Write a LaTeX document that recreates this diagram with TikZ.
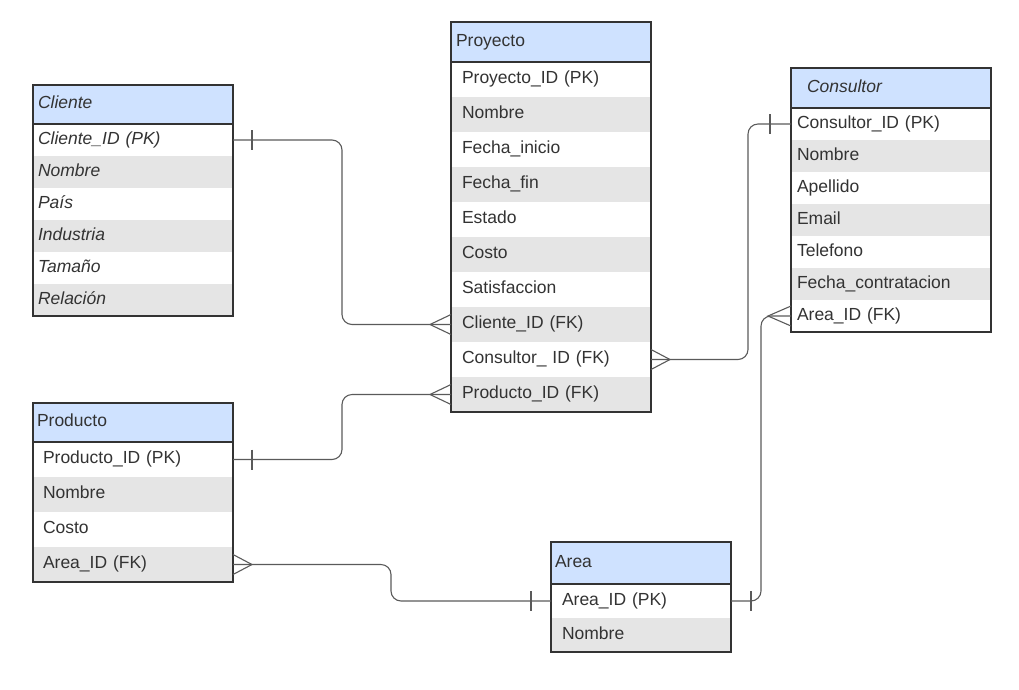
\documentclass[tikz,border=0pt]{standalone}
\usepackage{fontspec}
\setmainfont{Liberation Sans}
\usetikzlibrary{positioning}
\definecolor{headblue}{HTML}{CFE2FF}
\definecolor{rowgray}{HTML}{E5E5E5}
\definecolor{edgecol}{HTML}{333333}
\definecolor{linkcol}{HTML}{5A5A5A}
\definecolor{txtcol}{HTML}{333333}
\newcommand\erfont{\fontsize{17.5}{21}\selectfont}
\begin{document}
\begin{tikzpicture}[x=1pt, y=-1pt,
  every node/.style={font=\erfont, text=txtcol, align=left, anchor=north west, inner ysep=0pt, outer sep=0pt, text height=12.5pt, text depth=4pt},
  head/.style={fill=headblue, minimum height=#1},
  cell/.style={minimum height=#1},
  frame/.style={draw=edgecol, line width=1.2pt},
  link/.style={draw=linkcol, line width=1.1pt},
  pics/onetick/.style={code={\draw[link] (#1,-10) -- (#1,10);}},
  pics/crow/.style={code={\draw[link] (0,-10) -- (#1,0) -- (0,10);}}]
  \useasboundingbox (0,0) rectangle (1019,689);
  \node[head=39pt, text width=190pt, inner xsep=5pt, font=\erfont\itshape] (cli-h) at (33,85) {Cliente};
  \foreach \i/\txt/\col in {
    1/Cliente\_ID (PK)/white,
    2/Nombre/rowgray,
    3/País/white,
    4/Industria/rowgray,
    5/Tamaño/white,
    6/Relación/rowgray} {
      \node[cell=32pt, fill=\col, text width=190pt, inner xsep=5pt, font=\erfont\itshape] (cli-\i) at (33,{124+(\i-1)*32}) {\txt};
    }
  \draw[frame] (cli-h.north west) rectangle (cli-6.south east);
  \draw[frame, line width=2pt] (cli-h.south west) -- (cli-h.south east);
  \node[head=40pt, text width=190pt, inner xsep=5pt] (pro-h) at (451,22) {Proyecto};
  \foreach \i/\txt/\col in {
    1/Proyecto\_ID (PK)/white,
    2/Nombre/rowgray,
    3/Fecha\_inicio/white,
    4/Fecha\_fin/rowgray,
    5/Estado/white,
    6/Costo/rowgray,
    7/Satisfaccion/white,
    8/Cliente\_ID (FK)/rowgray,
    9/Consultor\_ ID (FK)/white,
    10/Producto\_ID (FK)/rowgray} {
      \node[cell=35pt, fill=\col, text width=178pt, inner xsep=11pt] (pro-\i) at (451,{62+(\i-1)*35}) {\txt};
    }
  \draw[frame] (pro-h.north west) rectangle (pro-10.south east);
  \draw[frame] (pro-h.south west) -- (pro-h.south east);
  \node[head=40pt, text width=168pt, inner xsep=16pt, font=\erfont\itshape] (con-h) at (791,68) {Consultor};
  \foreach \i/\txt/\col in {
    1/Consultor\_ID (PK)/white,
    2/Nombre/rowgray,
    3/Apellido/white,
    4/Email/rowgray,
    5/Telefono/white,
    6/Fecha\_contratacion/rowgray,
    7/Area\_ID (FK)/white} {
      \node[cell=32pt, fill=\col, text width=188pt, inner xsep=6pt] (con-\i) at (791,{108+(\i-1)*32}) {\txt};
    }
  \draw[frame] (con-h.north west) rectangle (con-7.south east);
  \draw[frame] (con-h.south west) -- (con-h.south east);
  \node[head=39pt, text width=192pt, inner xsep=4pt] (prd-h) at (33,403) {Producto};
  \foreach \i/\txt/\col in {
    1/Producto\_ID (PK)/white,
    2/Nombre/rowgray,
    3/Costo/white,
    4/Area\_ID (FK)/rowgray} {
      \node[cell=35pt, fill=\col, text width=180pt, inner xsep=10pt] (prd-\i) at (33,{442+(\i-1)*35}) {\txt};
    }
  \draw[frame] (prd-h.north west) rectangle (prd-4.south east);
  \draw[frame] (prd-h.south west) -- (prd-h.south east);
  \node[head=42pt, text width=172pt, inner xsep=4pt] (are-h) at (551,542) {Area};
  \foreach \i/\txt/\col in {
    1/Area\_ID (PK)/white,
    2/Nombre/rowgray} {
      \node[cell=34pt, fill=\col, text width=158pt, inner xsep=11pt] (are-\i) at (551,{584+(\i-1)*34}) {\txt};
    }
  \draw[frame] (are-h.north west) rectangle (are-2.south east);
  \draw[frame] (are-h.south west) -- (are-h.south east);
  \draw[link, rounded corners=10pt] (cli-1.east) -- ++(109,0) |- (pro-8.west);
  \pic at (cli-1.east) {onetick=19};
  \pic at (pro-8.west) {crow=-21};
  \draw[link, rounded corners=10pt] (prd-1.east) -- ++(109,0) |- (pro-10.west);
  \pic at (prd-1.east) {onetick=19};
  \pic at (pro-10.west) {crow=-21};
  \draw[link, rounded corners=10pt] (pro-9.east) -- ++(97,0) |- (con-1.west);
  \pic at (pro-9.east) {crow=19};
  \pic at (con-1.west) {onetick=-21};
  \draw[link, rounded corners=10pt] (are-1.east) -- ++(30,0) |- (con-7.west);
  \pic at (are-1.east) {onetick=20};
  \pic at (con-7.west) {crow=-23};
  \draw[link, rounded corners=10pt] (prd-4.east) -- ++(158,0) |- (are-1.west);
  \pic at (prd-4.east) {crow=19};
  \pic at (are-1.west) {onetick=-20};
\end{tikzpicture}
\end{document}
